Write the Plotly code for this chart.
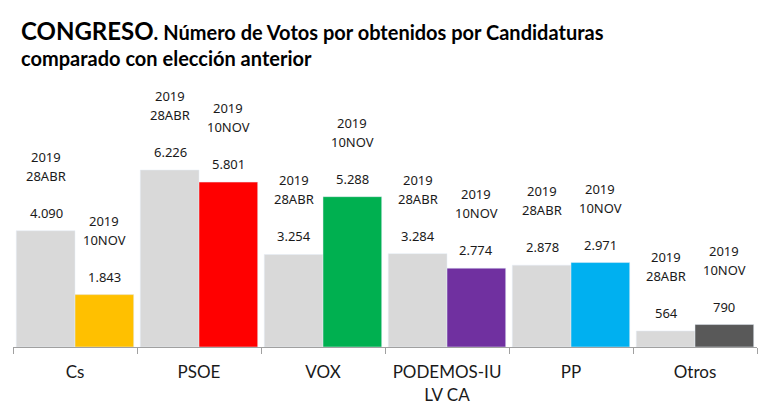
import plotly.graph_objects as go

categories = ["Cs", "PSOE", "VOX", "PODEMOS-IU<br>LV CA", "PP", "Otros"]
abr_values = [4090, 6226, 3254, 3284, 2878, 564]
nov_values = [1843, 5801, 5288, 2774, 2971, 790]
nov_colors = ["#ffc000", "#ff0000", "#00b050", "#7030a0", "#00b0f0", "#595959"]
abr_color = "#d9d9d9"
abr_label = ["2019", "28ABR"]
nov_label = ["2019", "10NOV"]

# page body has an 8px margin; figure is sized to fill the rest of the window
W, H, OFF = 758, 401, 8
ML, MR, MT, MB = 5, 9, 82, 62
PW, PH = W - ML - MR, H - MT - MB


def fmt(v):
    return f"{v:,}".replace(",", ".")


def px_to_paper(xw, yw):
    xf, yf = xw - OFF, yw - OFF
    return (xf - ML) / PW, (H - MB - yf) / PH


fig = go.Figure()
fig.add_trace(go.Bar(x=categories, y=abr_values, marker_color=abr_color,
                     name="2019 28ABR", hoverinfo="skip"))
fig.add_trace(go.Bar(x=categories, y=nov_values, marker_color=nov_colors,
                     name="2019 10NOV", hoverinfo="skip"))

ann = []
lab_font = dict(family="Noto Sans", size=13, color="#1a1a1a")
for vals, lines, xs in ((abr_values, abr_label, -29), (nov_values, nov_label, 29)):
    for c, v in zip(categories, vals):
        for txt, ys in ((fmt(v), 18), (lines[1], 55), (lines[0], 74)):
            ann.append(dict(x=c, y=v, xref="x", yref="y", text=txt, showarrow=False,
                            xshift=xs, yshift=ys, yanchor="middle", xanchor="center",
                            font=lab_font))

title_font = dict(family="Lato", size=20, color="#000000", weight="bold")
x1, y1 = px_to_paper(19, 31)
x2, y2 = px_to_paper(19, 58)
ann.append(dict(x=x1, y=y1, xref="paper", yref="paper",
                text="<span style='font-size:24px'>CONGRESO</span>. Número de Votos por obtenidos por Candidaturas",
                showarrow=False, xanchor="left", yanchor="middle", font=title_font))
ann.append(dict(x=x2, y=y2, xref="paper", yref="paper",
                text="comparado con elección anterior",
                showarrow=False, xanchor="left", yanchor="middle", font=title_font))

fig.update_layout(
    width=W, height=H,
    margin=dict(l=ML, r=MR, t=MT, b=MB),
    paper_bgcolor="white", plot_bgcolor="white",
    barmode="group", bargap=0.053, bargroupgap=0,
    showlegend=False,
    annotations=ann,
    xaxis=dict(
        showline=True, linecolor="#a0a0a0", linewidth=1,
        ticks="outside", tickson="boundaries", ticklen=6, tickcolor="#a0a0a0",
        ticklabelstandoff=10,
        tickfont=dict(family="Lato", size=17, color="#1a1a1a"),
        showgrid=False, fixedrange=True,
    ),
    yaxis=dict(range=[0, 9040], visible=False, showgrid=False, fixedrange=True),
)

fig.write_html("out.html")
